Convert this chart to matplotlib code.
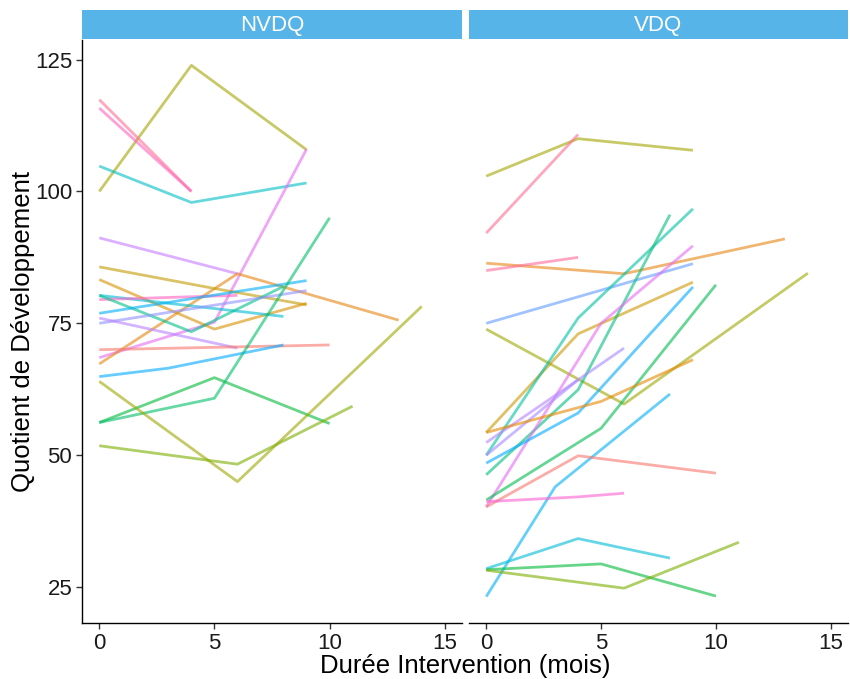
import matplotlib
matplotlib.use("Agg")
import matplotlib.pyplot as plt
from matplotlib.patches import Rectangle

plt.rcParams['font.family'] = ['Liberation Sans', 'DejaVu Sans']

panels = ["NVDQ", "VDQ"]

# ---- NVDQ panel data ----
nvdq_times = [
    [0, 4, 9], [0, 4], [0, 4], [0, 4, 9], [0, 5, 9], [0, 6], [0, 6, 13],
    [0, 5, 9], [0, 5, 9], [0, 8], [0, 6], [0, 4, 8], [0, 9], [0, 9],
    [0, 6], [0, 10], [0, 3, 8], [0, 5, 10], [0, 5, 10], [0, 6, 14], [0, 6, 11],
]
nvdq_values = [
    [100.0, 123.9, 107.9], [117.4, 100.0], [115.8, 100.0], [104.8, 97.9, 101.6],
    [68.5, 75.2, 108.0], [91.2, 84.4], [67.3, 84.4, 75.6],
    [85.7, 81.6, 78.5], [83.3, 73.9, 78.8], [80.3, 76.3], [79.5, 80.3],
    [80.3, 73.4, 82.0], [76.9, 83.1], [75.0, 81.2],
    [76.0, 70.3], [70.0, 70.9], [64.9, 66.5, 70.9], [56.2, 64.7, 56.0],
    [56.2, 60.8, 95.0], [64.0, 45.0, 78.2], [51.8, 48.3, 59.3],
]
nvdq_colors = [
    "#A3A500", "#FF6C91", "#FF62BC", "#00BFC4", "#E76BF3", "#C77CFF", "#E68613",
    "#C49A00", "#D89000", "#00BCD8", "#FF61C3", "#00C08B", "#00B0F6", "#8F91FF",
    "#B983FF", "#F8766D", "#00A9FF", "#00BA38", "#00BE67", "#9DA700", "#7CAE00",
]

# ---- VDQ panel data ----
vdq_times = [
    [0, 4, 9], [0, 4], [0, 6, 13], [0, 4], [0, 9], [0, 6, 14], [0, 4, 9],
    [0, 4, 9], [0, 4, 8], [0, 5, 9], [0, 4, 9], [0, 5, 10], [0, 4], [0, 4, 6],
    [0, 5, 9], [0, 3, 8], [0, 4, 10], [0, 4, 6], [0, 4, 8], [0, 5, 10], [0, 6, 11],
]
vdq_values = [
    [102.9, 110.0, 107.8], [92.1, 110.8], [86.4, 84.4, 91.0], [85.0, 87.5],
    [75.0, 86.3], [73.9, 59.7, 84.5], [54.3, 73.0, 82.8],
    [50.0, 76.0, 96.7], [46.3, 62.4, 95.6], [40.2, 75.0, 89.7], [48.5, 58.0, 81.9],
    [41.5, 55.1, 82.3], [52.4, 64.3], [50.0, 64.3, 70.3],
    [54.3, 60.2, 68.1], [23.2, 44.0, 61.6], [40.2, 49.9, 46.6], [41.2, 42.1, 42.8],
    [28.5, 34.2, 30.5], [28.3, 29.4, 23.3], [28.2, 24.8, 33.5],
]
vdq_colors = [
    "#A3A500", "#FF6C91", "#E68613", "#FF6A98", "#619CFF", "#9DA700", "#CD9600",
    "#00C1A3", "#00BF7D", "#E76BF3", "#00A9FF", "#00BB4E", "#B983FF", "#A58AFF",
    "#E58700", "#00B0F6", "#F8766D", "#FD61D1", "#00BCD8", "#00BA38", "#7CAE00",
]

x_ticks = [0, 5, 10, 15]
y_ticks = [25, 50, 75, 100, 125]

W, H = 850, 679
fig = plt.figure(figsize=(W / 100, H / 100), dpi=100)

def fx(p):
    return p / W

def fy(p):
    return 1 - p / H

panel_px = [(82, 462), (469, 848)]
top_px, bot_px = 40, 623
strip_top = 10

datasets = [(nvdq_times, nvdq_values, nvdq_colors), (vdq_times, vdq_values, vdq_colors)]

for i, (name, (l, r), (ts, vs, cs)) in enumerate(zip(panels, panel_px, datasets)):
    ax = fig.add_axes([fx(l), fy(bot_px), fx(r - l), (bot_px - top_px) / H])
    for t, v, c in zip(ts, vs, cs):
        ax.plot(t, v, color=c, alpha=0.6, lw=2.0, solid_capstyle='butt')
    ax.set_xlim(-0.75, 15.75)
    ax.set_ylim(18.2, 128.7)
    ax.set_xticks(x_ticks)
    ax.set_yticks(y_ticks)
    for s in ['top', 'right']:
        ax.spines[s].set_visible(False)
    ax.spines['bottom'].set_linewidth(1.0)
    ax.spines['left'].set_linewidth(1.0)
    ax.tick_params(axis='both', length=4, width=1.0, labelsize=16, color='#333333',
                   labelcolor='#1a1a1a', pad=3)
    if i == 1:
        ax.spines['left'].set_visible(False)
        ax.tick_params(axis='y', left=False, labelleft=False)
    # strip
    sax = fig.add_axes([fx(l), fy(top_px - 1), fx(r - l), (top_px - 1 - strip_top) / H])
    sax.add_patch(Rectangle((0, 0), 1, 1, color="#56B4E9", transform=sax.transAxes))
    sax.set_axis_off()
    sax.text(0.5, 0.48, name, ha='center', va='center', color='white', fontsize=16,
             transform=sax.transAxes)

fig.text(fx(465), fy(672.5), "Durée Intervention (mois)", ha='center', va='baseline',
         fontsize=18.5, color='black')
fig.text(fx(23), fy(331), "Quotient de Développement", ha='center', va='center',
         rotation=90, fontsize=18.5, color='black')

fig.savefig("out.png", dpi=100, facecolor='white')
